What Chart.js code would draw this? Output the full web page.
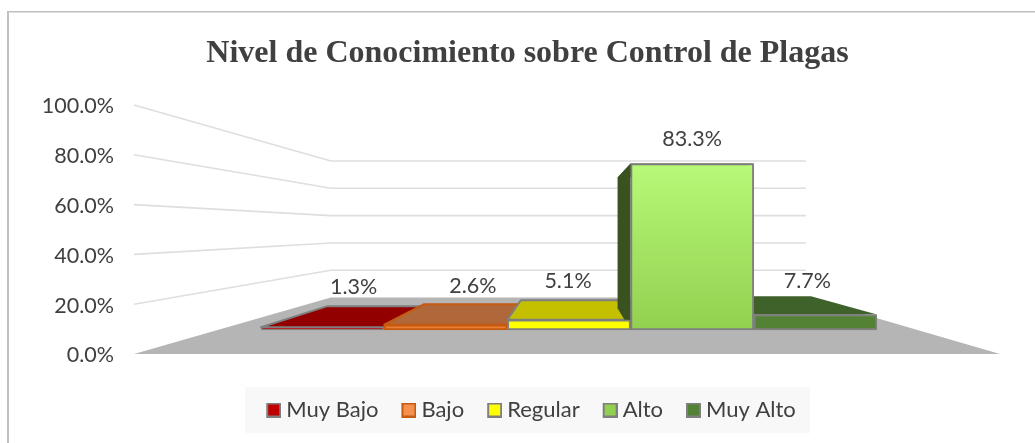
<!DOCTYPE html>
<html lang="es">
<head>
<meta charset="utf-8">
<style>html,body{margin:0;padding:0;background:#fff}canvas{display:block}</style>
<script src="https://cdn.jsdelivr.net/npm/chart.js@4/dist/chart.umd.min.js"></script>
</head>
<body>
<canvas id="c" width="1035" height="443"></canvas>
<script>
const chartTitle = 'Nivel de Conocimiento sobre Control de Plagas';
const categories = ['Muy Bajo', 'Bajo', 'Regular', 'Alto', 'Muy Alto'];
const values = [1.3, 2.6, 5.1, 83.3, 7.7];
const valueLabels = ['1.3%', '2.6%', '5.1%', '83.3%', '7.7%'];
const tickLabels = ['0.0%', '20.0%', '40.0%', '60.0%', '80.0%', '100.0%'];
const frontColors = ['#C00000', '#ED7D31', '#FFFF00', '#92D050', '#548235'];
const legendColors = ['#C00000', '#F4914F', '#FFFF00', '#92D050', '#548235'];
const topColors = ['#920000', '#B0683A', '#C4C000', '#3A5220', '#3F612A'];
const edgeColors = ['#7F7F7F', '#C55A11', '#7F7F7F', '#7F7F7F', '#7F7F7F'];
const labelDx = [31, 27, -1, 0, -8];
const labelDy = [-40, -39, -39, -24, -33];

const VP = {x: 570, y: 229};
const WALL_DEPTH = 0.4515, BAR_DEPTH = 0.215, FLOOR_L = 134, FLOOR_R = 1000;
const FONT_UI = 'Lato, Carlito, Calibri, sans-serif';
const project = (x, y, t) => ({x: x + (VP.x - x) * t, y: y + (VP.y - y) * t});
const poly = (ctx, pts) => {
  ctx.beginPath();
  pts.forEach((p, i) => i ? ctx.lineTo(p.x, p.y) : ctx.moveTo(p.x, p.y));
  ctx.closePath();
};

function swatch(fill, edge) {
  const s = document.createElement('canvas');
  s.width = 20; s.height = 15;
  const g = s.getContext('2d');
  g.fillStyle = fill; g.fillRect(5, 0, 15, 15);
  g.strokeStyle = edge; g.lineWidth = 2; g.strokeRect(6, 1, 13, 13);
  return s;
}

const scene = {
  id: 'scene',
  afterLayout(chart) {
    chart.legend.left += 4;
    chart.legend.right += 4;
  },
  beforeDraw(chart) {
    const c = chart.ctx;
    c.save();
    c.fillStyle = '#fff'; c.fillRect(0, 0, chart.width, chart.height);
    c.fillStyle = '#BFBFBF';
    c.fillRect(7, 11, 2, chart.height - 11);
    c.fillRect(7, 11, chart.width - 7, 1.5);
    c.fillStyle = '#F8F8F8'; c.fillRect(245, 387, 565, 46);
    c.restore();
  },
  beforeDatasetsDraw(chart) {
    const c = chart.ctx, y = chart.scales.y;
    c.save();
    // floor
    const y0 = y.getPixelForValue(0);
    const fl = {x: FLOOR_L, y: y0}, fr = {x: FLOOR_R, y: y0};
    poly(c, [fl, fr, project(FLOOR_R, y0, WALL_DEPTH), project(FLOOR_L, y0, WALL_DEPTH)]);
    c.fillStyle = '#B5B5B5'; c.fill();
    // side and back wall gridlines
    c.strokeStyle = '#DEDEDE'; c.lineWidth = 1.6;
    y.ticks.forEach(t => {
      const py = y.getPixelForValue(t.value);
      const a = project(FLOOR_L, py, WALL_DEPTH), b = project(FLOOR_R, py, WALL_DEPTH);
      if (t.value > 0) {
        c.beginPath(); c.moveTo(FLOOR_L, py); c.lineTo(a.x, a.y); c.lineTo(b.x, b.y); c.stroke();
      }
    });
    // depth faces of the bars
    const bars = chart.getDatasetMeta(0).data;
    [0, 1, 2, 4, 3].forEach(i => {
      const b = bars[i], L = b.x - b.width / 2, R = b.x + b.width / 2;
      c.lineJoin = 'round';
      c.lineWidth = 2;
      c.strokeStyle = edgeColors[i];
      poly(c, [{x: L, y: b.y}, {x: R, y: b.y}, project(R, b.y, BAR_DEPTH), project(L, b.y, BAR_DEPTH)]);
      c.fillStyle = topColors[i]; c.fill(); if (i !== 3 && i !== 4) c.stroke();
      if (L > VP.x) {
        poly(c, [{x: L, y: b.y}, {x: L, y: b.base}, project(L, b.base, BAR_DEPTH), project(L, b.y, BAR_DEPTH)]);
        c.fillStyle = topColors[i]; c.fill();
      }
    });
    c.restore();
  },
  afterDatasetsDraw(chart) {
    const c = chart.ctx, bars = chart.getDatasetMeta(0).data;
    c.save();
    c.font = '21.5px ' + FONT_UI;
    c.fillStyle = '#404040'; c.textAlign = 'center'; c.textBaseline = 'middle';
    valueLabels.forEach((t, i) => c.fillText(t, bars[i].x + labelDx[i], bars[i].y + labelDy[i]));
    c.restore();
  }
};

new Chart(document.getElementById('c'), {
  type: 'bar',
  data: {
    labels: categories,
    datasets: [{
      label: 'Nivel',
      data: values,
      yAxisID: 'y2',
      barPercentage: 1,
      categoryPercentage: 1,
      borderWidth: 2,
      borderSkipped: false,
      borderColor: edgeColors,
      backgroundColor(ctx) {
        const i = ctx.dataIndex;
        if (i === 3 && ctx.chart.chartArea) {
          const s = ctx.chart.scales.y2;
          const g = ctx.chart.ctx.createLinearGradient(0, s.getPixelForValue(values[3]), 0, s.getPixelForValue(0));
          g.addColorStop(0, '#B7F978'); g.addColorStop(1, '#92D050');
          return g;
        }
        return frontColors[i];
      }
    }]
  },
  options: {
    responsive: false,
    animation: false,
    layout: {padding: {left: 20, right: 0, top: 0, bottom: 12}},
    plugins: {
      tooltip: {enabled: false},
      title: {
        display: true, text: chartTitle, color: '#404040',
        font: {family: '"Liberation Serif", serif', size: 32, weight: 'bold', lineHeight: 1.2},
        padding: {top: 35, bottom: 31.6}
      },
      legend: {
        position: 'bottom',
        labels: {
          color: '#404040',
          font: {family: FONT_UI, size: 22},
          usePointStyle: true,
          pointStyleWidth: 8,
          padding: 24,
          generateLabels: () => categories.map((t, i) => ({
            text: t, fontColor: '#404040', hidden: false, index: i, datasetIndex: 0,
            pointStyle: swatch(legendColors[i], edgeColors[i])
          }))
        }
      }
    },
    scales: {
      x: {
        offset: true,
        ticks: {display: false}, grid: {display: false, drawTicks: false}, border: {display: false},
        afterFit(s) { s.height = 21; }
      },
      y: {
        position: 'left', min: 0, max: 100,
        ticks: {
          stepSize: 20, padding: 147, labelOffset: 1.5, color: '#404040',
          font: {family: FONT_UI, size: 21.5},
          callback: (v) => tickLabels[Math.round(v / 20)]
        },
        grid: {display: false, drawTicks: false}, border: {display: false},
        afterFit(s) { s.width = 241; s.paddingTop = 0; s.paddingBottom = 0; }
      },
      y2: {
        position: 'right', min: -12.06, max: 112.56,
        ticks: {display: false}, grid: {display: false, drawTicks: false}, border: {display: false},
        afterFit(s) { s.width = 158; }
      }
    }
  },
  plugins: [scene]
});
</script>
</body>
</html>
